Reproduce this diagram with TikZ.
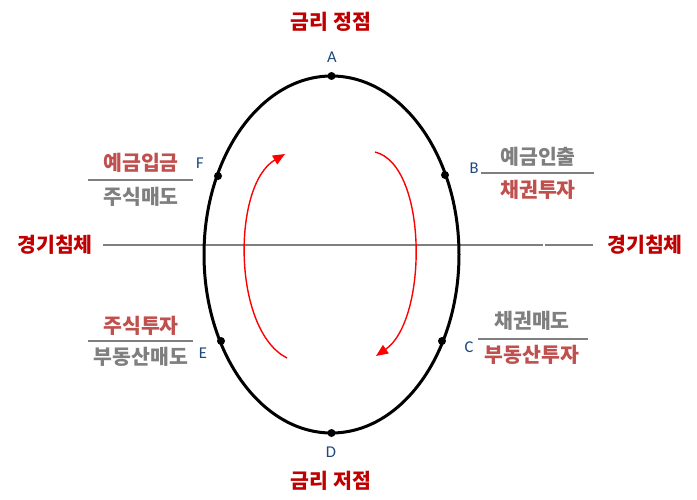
\documentclass[tikz,border=0pt]{standalone}
\usepackage{fontspec}
\setmainfont{Noto Sans CJK KR}
\newfontfamily\latinf{Carlito}
\usetikzlibrary{arrows.meta}
\definecolor{titlered}{HTML}{C00000}
\definecolor{labred}{HTML}{C0504D}
\definecolor{labgray}{HTML}{7F7F7F}
\definecolor{letblue}{HTML}{1F497D}
\begin{document}
\begin{tikzpicture}[x=1pt,y=-1pt,
  title/.style={text=titlered,font=\fontsize{20.5}{20.5}\selectfont\bfseries,inner sep=0pt},
  redlab/.style={text=labred,font=\fontsize{20.5}{20.5}\selectfont\bfseries,inner sep=0pt},
  graylab/.style={text=labgray,font=\fontsize{20.5}{20.5}\selectfont\bfseries,inner sep=0pt},
  letter/.style={text=letblue,font=\latinf\fontsize{16.5}{16.5}\selectfont,inner sep=0pt},
  dot/.style={circle,fill=black,minimum size=8pt,inner sep=0pt},
  fracline/.style={draw=labgray,line width=2pt},
  axisline/.style={draw=labgray,line width=2pt},
  cyclearrow/.style={draw=red,line width=1.4pt,-{Triangle[length=12pt,width=10pt]}}]
\useasboundingbox (0,0) rectangle (697,500);
\fill[white] (0,0) rectangle (697,500);
% axis line
\coordinate (axL) at (103,245);
\coordinate (axM1) at (543,245);
\coordinate (axM2) at (545,245);
\coordinate (axR) at (593,245);
\draw[axisline] (axL) -- (axM1);
\draw[axisline] (axM2) -- (axR);
% ellipse
\draw[line width=3pt] (331.5,254.5) ellipse [x radius=127.5, y radius=178.5];
% dots
\node[dot] (a) at (331.5,76) {};
\node[dot] (b) at (445,175) {};
\node[dot] (c) at (442,341) {};
\node[dot] (d) at (331.5,433) {};
\node[dot] (e) at (221,341) {};
\node[dot] (f) at (218,176) {};
% letters
\node[letter] (la) at (332,57) {A};
\node[letter] (lb) at (474,168) {B};
\node[letter] (lc) at (469,347) {C};
\node[letter] (ld) at (331,452) {D};
\node[letter] (le) at (203,353) {E};
\node[letter] (lf) at (200,163) {F};
% titles
\node[title] (top) at (331,22) {금리 정점};
\node[title] (bot) at (331,481) {금리 저점};
\node[title] (wl) at (55,245) {경기침체};
\node[title] (wr) at (645,245) {경기침체};
% F group
\node[redlab] (f1) at (141,163) {예금입금};
\node[graylab] (f2) at (141,197) {주식매도};
\coordinate (fl1) at (88,180); \coordinate (fl2) at (193,180);
\draw[fracline] (fl1) -- (fl2);
% B group
\node[graylab] (b1) at (538,157) {예금인출};
\node[redlab] (b2) at (538,190) {채권투자};
\coordinate (bl1) at (481,173); \coordinate (bl2) at (594,173);
\draw[fracline] (bl1) -- (bl2);
% E group
\node[redlab] (e1) at (141,326) {주식투자};
\node[graylab] (e2) at (141,357) {부동산매도};
\coordinate (el1) at (88,341); \coordinate (el2) at (193,341);
\draw[fracline] (el1) -- (el2);
% C group
\node[graylab] (c1) at (532,321) {채권매도};
\node[redlab] (c2) at (532,355) {부동산투자};
\coordinate (cl1) at (478,339); \coordinate (cl2) at (588,339);
\draw[fracline] (cl1) -- (cl2);
% cycle arrows
\coordinate (l0) at (287,358);
\coordinate (l1) at (285,154);
\draw[cyclearrow] (l0) .. controls (232,330) and (232,185) .. (l1);
\coordinate (r0) at (375,152);
\coordinate (r1) at (376,356);
\draw[cyclearrow] (r0) .. controls (428,165) and (428,320) .. (r1);
\end{tikzpicture}
\end{document}
